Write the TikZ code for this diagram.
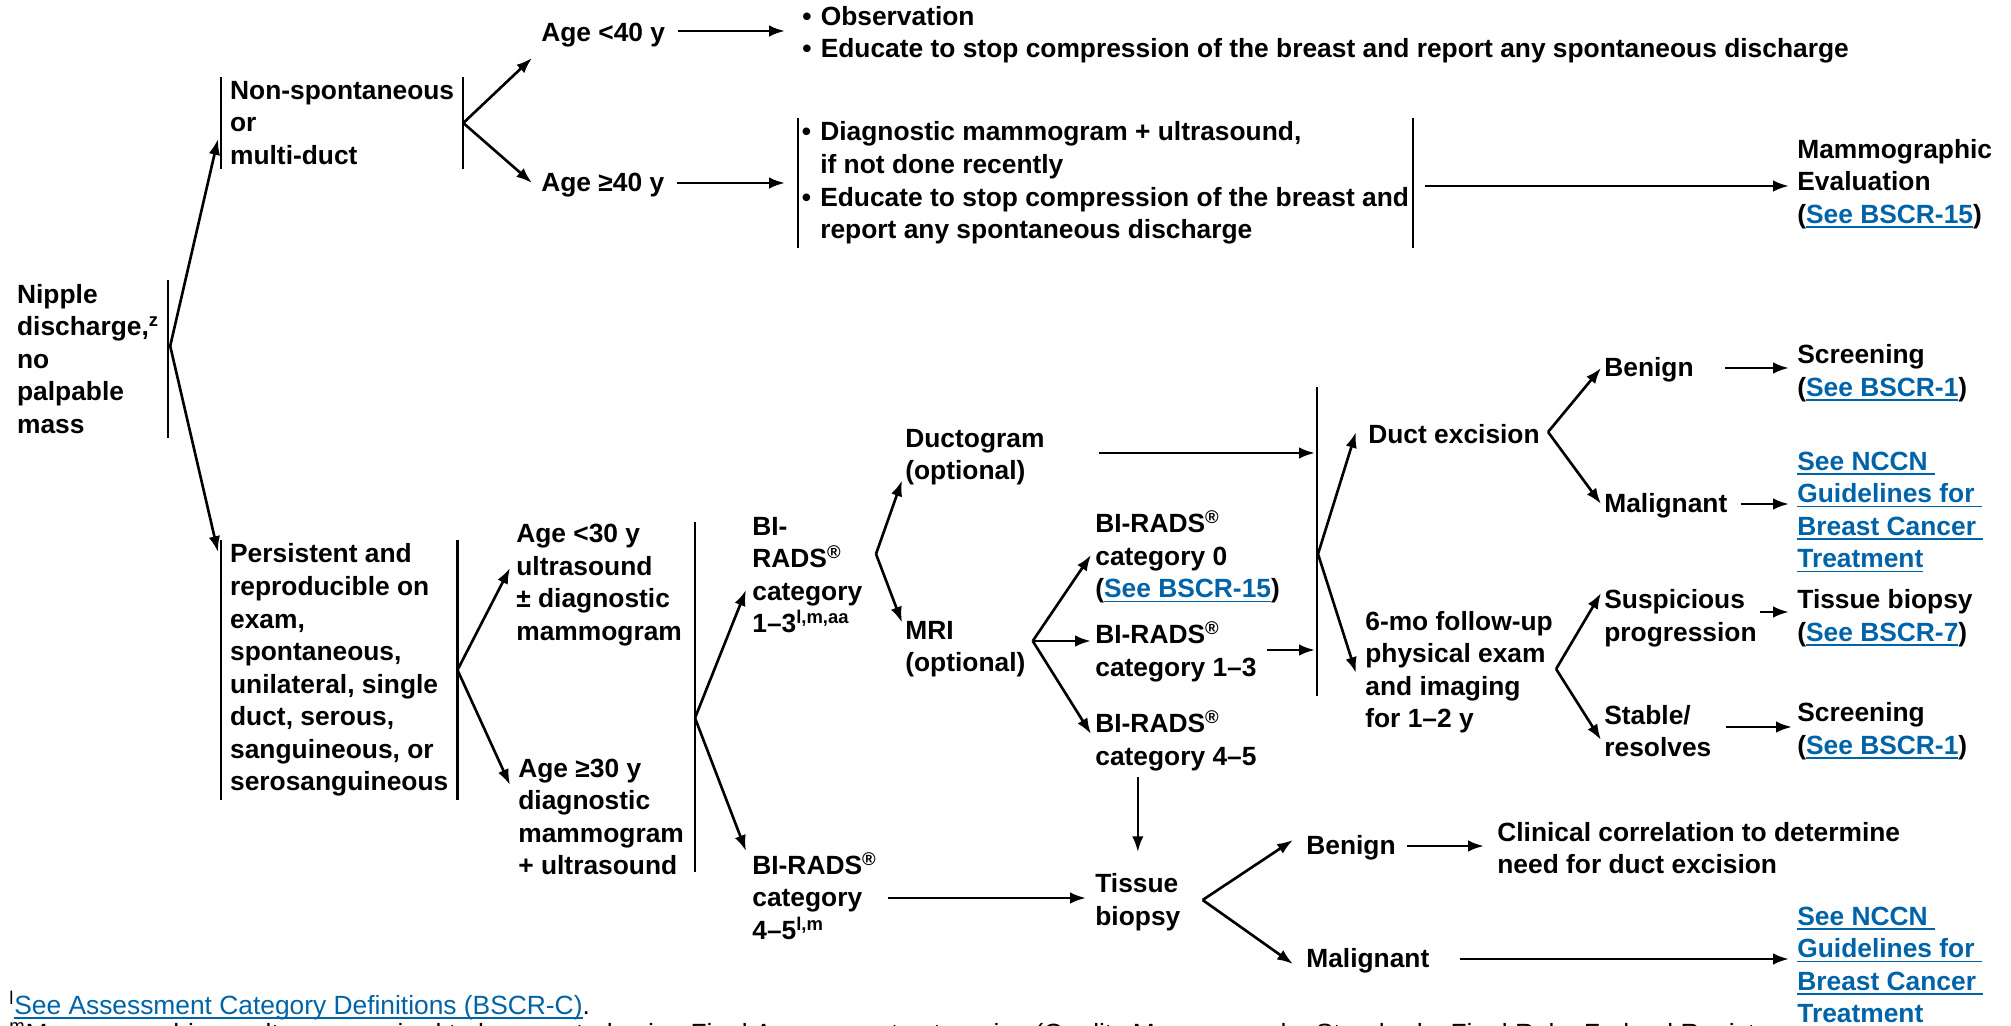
\documentclass[tikz,border=0pt]{standalone}
\usepackage{fontspec}
\setmainfont{Liberation Sans}
\usetikzlibrary{arrows.meta,calc}

\definecolor{nccnblue}{RGB}{0,99,168}
\newcommand{\lnk}[1]{{\color{nccnblue}\setbox0=\hbox{#1}\rlap{\rule[-2.6pt]{\wd0}{0.9pt}}\box0}}
\newcommand{\bul}{\makebox[0.7em][l]{•}}
\newcommand{\ind}{\hspace*{0.7em}}

\tikzset{
    txt/.style={anchor=west, inner sep=0pt, align=left, font=\fontsize{15}{18.5}\selectfont\bfseries},
    brk/.style={txt, inner xsep=5pt, inner ysep=2pt},
    brkline/.style={line width=1.2pt},
    arr/.style={-{Latex[length=9pt,width=6.5pt]}, line width=1.5pt},
    fn/.style={anchor=base west, inner sep=0pt, font=\fontsize{15}{18}\selectfont},
}

\begin{document}
\begin{tikzpicture}[x=0.02cm, y=-0.02cm]
    \useasboundingbox (0,0) rectangle (2011,1026);

    % Upper branch
    \node[brk] (nipple) at (8,359) {Nipple\\discharge,\textsuperscript{z}\\no\\palpable\\mass};
    \node[brk] (nonspont) at (221,123) {Non-spontaneous\\or\\multi-duct};
    \node[txt] (agelt40) at (541,35) {Age <40 y};
    \node[txt] (agege40) at (541,185) {Age ≥40 y};
    \node[txt] (obs) at (802,35) {\bul Observation\\\bul Educate to stop compression of the breast and report any spontaneous discharge};
    \node[brk, inner xsep=2pt] (diag) at (798,183) {\bul Diagnostic mammogram + ultrasound,\\\ind if not done recently\\\bul Educate to stop compression of the breast and\\\ind report any spontaneous discharge};
    \node[txt] (mammo) at (1797,184) {Mammographic\\Evaluation\\(\lnk{See BSCR-15})};

    % Lower branch
    \node[brk] (persist) at (221,670) {Persistent and\\reproducible on\\exam,\\spontaneous,\\unilateral, single\\duct, serous,\\sanguineous, or\\serosanguineous};
    \node[txt] (agelt30) at (516,585) {Age <30 y\\ultrasound\\± diagnostic\\mammogram};
    \node[txt] (agege30) at (518,817) {Age ≥30 y\\diagnostic\\mammogram\\+ ultrasound};
    \node[txt] (bir13) at (752,575) {BI-\\RADS\textsuperscript{®}\\category\\1–3\textsuperscript{l,m,aa}};
    \node[txt] (bir45) at (752,896) {BI-RADS\textsuperscript{®}\\category\\4–5\textsuperscript{l,m}};
    \node[txt] (ducto) at (905,457) {Ductogram\\(optional)};
    \node[txt] (mri) at (905,649) {MRI\\(optional)};
    \node[txt] (bir0) at (1095,557) {BI-RADS\textsuperscript{®}\\category 0\\(\lnk{See BSCR-15})};
    \node[txt] (mri13) at (1095,652) {BI-RADS\textsuperscript{®}\\category 1–3};
    \node[txt] (mri45) at (1095,741) {BI-RADS\textsuperscript{®}\\category 4–5};
    \node[txt] (ductex) at (1368,434) {Duct excision};
    \node[txt] (follow) at (1365,672) {6-mo follow-up\\physical exam\\and imaging\\for 1–2 y};
    \node[txt] (benA) at (1604,370) {Benign};
    \node[txt] (malA) at (1604,506) {Malignant};
    \node[txt] (screenA) at (1797,373) {Screening\\(\lnk{See BSCR-1})};
    \node[txt] (nccnA) at (1797,512) {\lnk{See NCCN\ }\\\lnk{Guidelines for\ }\\\lnk{Breast Cancer\ }\\\lnk{Treatment}};
    \node[txt] (susp) at (1604,618) {Suspicious\\progression};
    \node[txt] (stable) at (1604,731) {Stable/\\resolves};
    \node[txt] (biopA) at (1797,618) {Tissue biopsy\\(\lnk{See BSCR-7})};
    \node[txt] (screenB) at (1797,731) {Screening\\(\lnk{See BSCR-1})};
    \node[txt] (biopsy) at (1095,902) {Tissue\\biopsy};
    \node[txt] (benB) at (1306,848) {Benign};
    \node[txt] (clin) at (1497,848) {Clinical correlation to determine\\need for duct excision};
    \node[txt] (malB) at (1306,961) {Malignant};
    \node[txt] (nccnB) at (1797,967) {\lnk{See NCCN\ }\\\lnk{Guidelines for\ }\\\lnk{Breast Cancer\ }\\\lnk{Treatment}};

    % Footnotes
    \node[fn] (fnote) at (9,1014) {\textsuperscript{l}\lnk{See Assessment Category Definitions (BSCR-C)}.};
    \begin{scope}
        \clip (0,1000) rectangle (1793,1026);
        \node[fn] (fnote2) at (9,1042) {\textsuperscript{m}Mammographic results are required to be reported using Final Assessment categories (Quality Mammography Standards; Final Rule, Federal Register};
    \end{scope}

    % Brackets
    \coordinate (ageT) at (695,522);
    \coordinate (ageB) at (695,872);
    \coordinate (midT) at (1317,387);
    \coordinate (midB) at (1317,696);
    \draw[brkline] (nipple.north east) -- (nipple.south east);
    \draw[brkline] (nonspont.north west) -- (nonspont.south west) (nonspont.north east) -- (nonspont.south east);
    \draw[brkline] (diag.north west) -- (diag.south west) (diag.north east) -- (diag.south east);
    \draw[brkline] (persist.north west) -- (persist.south west) (persist.north east) -- (persist.south east);
    \draw[brkline] (ageT) -- (ageB);
    \draw[brkline] (midT) -- (midB);

    % Branch points
    \coordinate (nbr) at ($(nipple.east)+(2,-13)$);
    \coordinate (agebr) at (695,718);
    \coordinate (b13br) at (876,554);
    \coordinate (mribr) at ($(mri.east)+(7,-8)$);
    \coordinate (midbr) at (1318,554);
    \coordinate (dxbr) at ($(ductex.east)+(8,-2)$);
    \coordinate (fubr) at ($(follow.east)+(3,-3)$);
    \coordinate (bxbr) at ($(biopsy.east)+(22,-2)$);

    % Draw arrows
    \draw[arr] (nbr) -- ($(nonspont.west)+(-3,16)$);
    \draw[arr] (nbr) -- ($(persist.north west)+(-3,12)$);
    \draw[arr] (nonspont.east) -- ($(agelt40.west)+(-9,23)$);
    \draw[arr] (nonspont.east) -- ($(agege40.west)+(-9,-2)$);
    \draw[arr] ($(agelt40.east)+(12,-4)$) -- ($(obs.west)+(-17,-4)$);
    \draw[arr] ($(agege40.east)+(12,-2)$) -- ($(agege40.east -| diag.west)+(-13,-2)$);
    \draw[arr] ($(diag.east)+(12,3)$) -- ($(diag.east -| mammo.west)+(-8,3)$);

    \draw[arr] (persist.east) -- ($(agelt30.west)+(-6,-17)$);
    \draw[arr] (persist.east) -- ($(agege30.west)+(-8,-32)$);
    \draw[arr] (agebr) -- ($(bir13.west)+(-6,15)$);
    \draw[arr] (agebr) -- ($(bir45.north west)+(-6,-1)$);
    \draw[arr] (b13br) -- ($(ducto.south west)+(-3,-5)$);
    \draw[arr] (b13br) -- ($(mri.north west)+(-3,2)$);
    \draw[arr] ($(ducto.east)+(54,-4)$) -- ($(ducto.east -| midT)+(-2,-4)$);

    \draw[arr] (mribr) -- ($(bir0.west)+(-4,-2)$);
    \draw[arr] (mribr) -- ($(mribr -| mri13.west)+(-4,0)$);
    \draw[arr] (mribr) -- ($(mri45.west)+(-4,-7)$);
    \draw[arr] ($(mri13.east)+(10,-2)$) -- ($(mri13.east -| midT)+(-2,-2)$);
    \draw[arr] ($(biopsy.north |- mri45.south)+(0,6)$) -- ($(biopsy.north)+(0,-21)$);

    \draw[arr] (midbr) -- ($(ductex.west)+(-12,-2)$);
    \draw[arr] (midbr) -- ($(follow.west)+(-9,1)$);
    \draw[arr] (dxbr) -- ($(benA.west)+(-3,-2)$);
    \draw[arr] (dxbr) -- ($(malA.west)+(-3,-2)$);
    \draw[arr] ($(benA.east)+(31,-2)$) -- ($(benA.east -| screenA.west)+(-8,-2)$);
    \draw[arr] ($(malA.east)+(13,-2)$) -- ($(malA.east -| nccnA.west)+(-8,-2)$);

    \draw[arr] (fubr) -- ($(susp.north west)+(-3,4)$);
    \draw[arr] (fubr) -- ($(stable.west)+(-3,9)$);
    \draw[arr] ($(susp.east)+(3,-6)$) -- ($(susp.east -| biopA.west)+(-8,-6)$);
    \draw[arr] ($(stable.east)+(14,-4)$) -- ($(stable.east -| screenB.west)+(-5,-4)$);

    \draw[arr] ($(bir45.east)+(11,2)$) -- ($(bir45.east -| biopsy.west)+(-9,2)$);
    \draw[arr] (bxbr) -- ($(benB.west)+(-13,-8)$);
    \draw[arr] (bxbr) -- ($(malB.west)+(-13,3)$);
    \draw[arr] ($(benB.east)+(11,-2)$) -- ($(clin.west)+(-13,-2)$);
    \draw[arr] ($(malB.east)+(30,-2)$) -- ($(malB.east -| nccnB.west)+(-8,-2)$);
\end{tikzpicture}
\end{document}
